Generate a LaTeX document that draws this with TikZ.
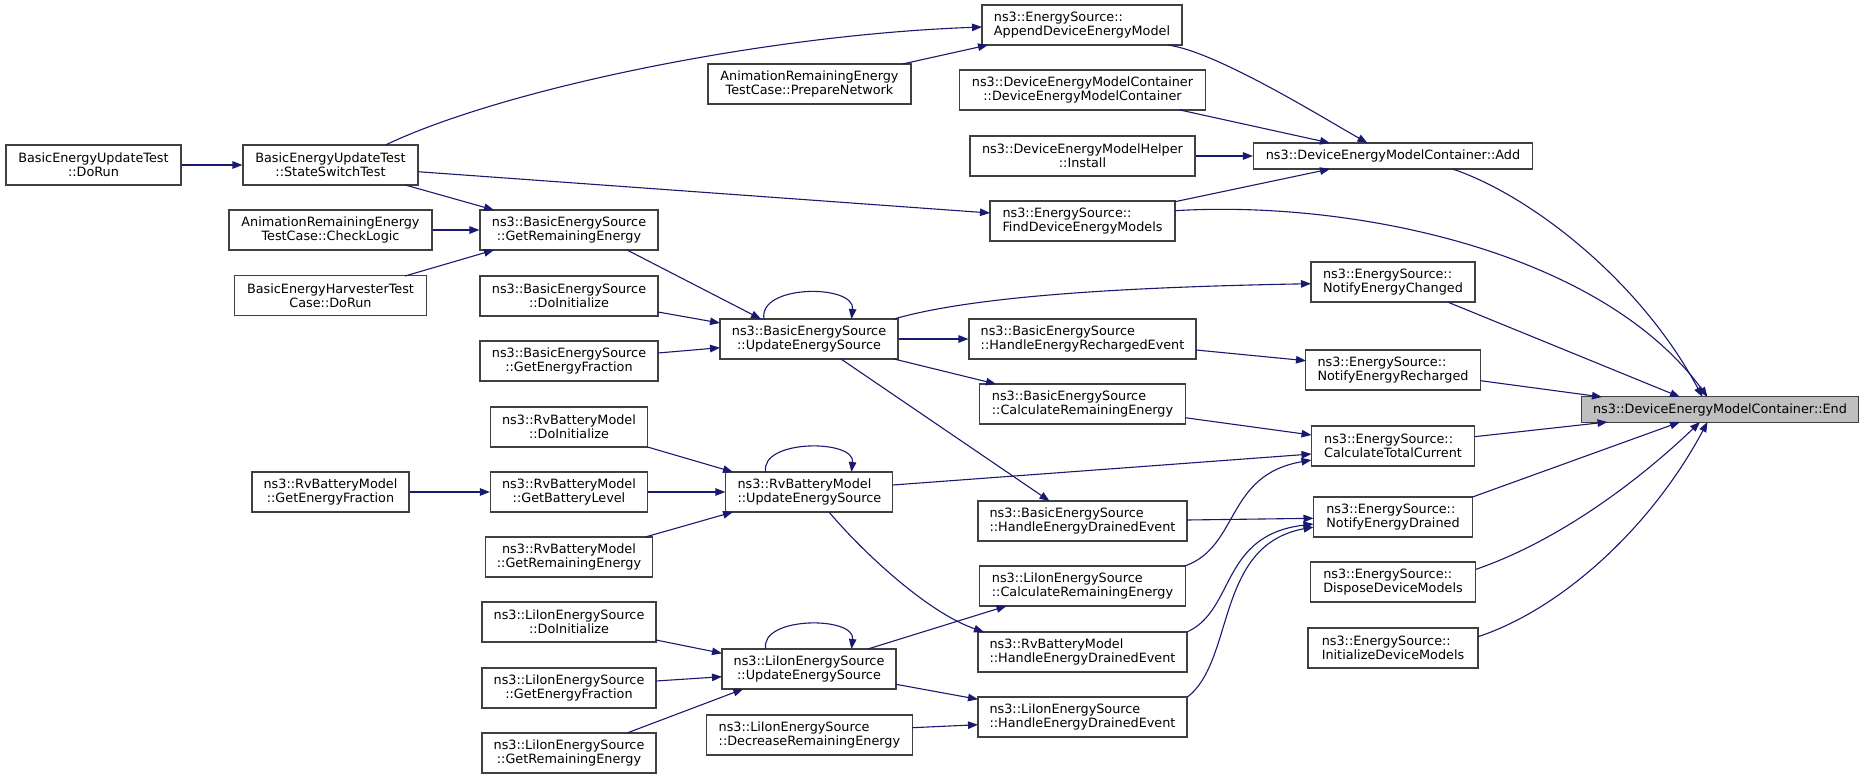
\documentclass[tikz,border=0pt]{standalone}
\usepackage{fontspec}
\setmainfont{DejaVu Sans}
\usetikzlibrary{arrows.meta}
\definecolor{edgecol}{HTML}{191970}
\definecolor{bordercol}{HTML}{404040}
\definecolor{rootfill}{HTML}{BFBFBF}
\tikzset{
  fn/.style={draw=bordercol, line width=1.1pt, fill=white, inner sep=0pt, minimum height=40pt,
    font=\fontsize{12.8}{14}\selectfont, text=black},
  fnl/.style={fn, align=left},
  fnc/.style={fn, align=center},
  call/.style={draw=edgecol, line width=1.1pt, -{Triangle[length=10pt,width=7.5pt]}},
}
\begin{document}
\begin{tikzpicture}[x=1pt,y=-1pt]
\fill[white] (0,0) rectangle (1864,779);
\useasboundingbox (0,0) rectangle (1864,779);
% column 1
\node[fnc, minimum width=175pt] (dorun) at (93.5,165) {BasicEnergyUpdateTest\\::DoRun};
% column 2
\node[fnc, minimum width=175pt] (sst) at (330.5,165) {BasicEnergyUpdateTest\\::StateSwitchTest};
\node[fnc, minimum width=203pt] (chk) at (330.5,230) {AnimationRemainingEnergy\\TestCase::CheckLogic};
\node[fnc, minimum width=192pt] (harv) at (330.5,295.5) {BasicEnergyHarvesterTest\\Case::DoRun};
\node[fnc, minimum width=157pt] (rgef) at (330.5,492) {ns3::RvBatteryModel\\::GetEnergyFraction};
% column 3
\node[fnc, minimum width=178pt] (bgre) at (569,230) {ns3::BasicEnergySource\\::GetRemainingEnergy};
\node[fnc, minimum width=178pt] (bdoi) at (569,296) {ns3::BasicEnergySource\\::DoInitialize};
\node[fnc, minimum width=178pt] (bgef) at (569,361) {ns3::BasicEnergySource\\::GetEnergyFraction};
\node[fnc, minimum width=157pt] (rdoi) at (569,427) {ns3::RvBatteryModel\\::DoInitialize};
\node[fnc, minimum width=157pt] (rgbl) at (569,492) {ns3::RvBatteryModel\\::GetBatteryLevel};
\node[fnc, minimum width=167pt] (rgre) at (569,557) {ns3::RvBatteryModel\\::GetRemainingEnergy};
\node[fnc, minimum width=174pt] (ldoi) at (569,622) {ns3::LiIonEnergySource\\::DoInitialize};
\node[fnc, minimum width=174pt] (lgef) at (569,688) {ns3::LiIonEnergySource\\::GetEnergyFraction};
\node[fnc, minimum width=174pt] (lgre) at (569,753) {ns3::LiIonEnergySource\\::GetRemainingEnergy};
% column 4
\node[fnc, minimum width=203pt] (prep) at (809.5,84) {AnimationRemainingEnergy\\TestCase::PrepareNetwork};
\node[fnc, minimum width=178pt] (bupd) at (809,339) {ns3::BasicEnergySource\\::UpdateEnergySource};
\node[fnl, minimum width=167pt] (rupd) at (809.4,492) {ns3::RvBatteryModel\\::UpdateEnergySource};
\node[fnc, minimum width=174pt] (lupd) at (809,669) {ns3::LiIonEnergySource\\::UpdateEnergySource};
\node[fnl, minimum width=206pt] (ldec) at (809.4,735) {ns3::LiIonEnergySource\\::DecreaseRemainingEnergy};
% column 5
\node[fnl, minimum width=200pt] (app) at (1082,25) {ns3::EnergySource::\\AppendDeviceEnergyModel};
\node[fnc, minimum width=246pt] (ctor) at (1082.5,90) {ns3::DeviceEnergyModelContainer\\::DeviceEnergyModelContainer};
\node[fnc, minimum width=225pt] (inst) at (1082.5,156) {ns3::DeviceEnergyModelHelper\\::Install};
\node[fnl, minimum width=185pt] (find) at (1082.5,221) {ns3::EnergySource::\\FindDeviceEnergyModels};
\node[fnl, minimum width=227pt] (here) at (1082.5,339) {ns3::BasicEnergySource\\::HandleEnergyRechargedEvent};
\node[fnl, minimum width=206pt] (bcre) at (1082.5,404) {ns3::BasicEnergySource\\::CalculateRemainingEnergy};
\node[fnl, minimum width=209pt] (bhede) at (1082.5,521) {ns3::BasicEnergySource\\::HandleEnergyDrainedEvent};
\node[fnl, minimum width=206pt] (lcre) at (1082.5,586) {ns3::LiIonEnergySource\\::CalculateRemainingEnergy};
\node[fnl, minimum width=209pt] (rhede) at (1082.5,652) {ns3::RvBatteryModel\\::HandleEnergyDrainedEvent};
\node[fnl, minimum width=209pt] (lhede) at (1082.5,717) {ns3::LiIonEnergySource\\::HandleEnergyDrainedEvent};
% column 6
\node[fnc, minimum width=279pt, minimum height=26pt] (add) at (1393,156) {ns3::DeviceEnergyModelContainer::Add};
\node[fnl, minimum width=164pt] (nec) at (1393,282) {ns3::EnergySource::\\NotifyEnergyChanged};
\node[fnl, minimum width=174.5pt] (ner) at (1393,370) {ns3::EnergySource::\\NotifyEnergyRecharged};
\node[fnl, minimum width=163pt] (ctc) at (1393,446) {ns3::EnergySource::\\CalculateTotalCurrent};
\node[fnl, minimum width=159pt] (ned) at (1393,517) {ns3::EnergySource::\\NotifyEnergyDrained};
\node[fnl, minimum width=165.5pt] (disp) at (1393,582) {ns3::EnergySource::\\DisposeDeviceModels};
\node[fnl, minimum width=170pt] (init) at (1393,648) {ns3::EnergySource::\\InitializeDeviceModels};
% root
\node[fnc, fill=rootfill, minimum width=277pt, minimum height=25.5pt] (root) at (1720,409.5) {ns3::DeviceEnergyModelContainer::End};

% edges
\draw[call] (dorun.east) -- (sst.west);
\draw[call] ([shift={(55,-20)}]sst.center) .. controls +(115,-55) and +(-222,8) .. ([shift={(-100,2)}]app.center);
\draw[call] ([shift={(93,-20)}]prep.center) -- ([shift={(-94,20)}]app.center);
\draw[call] ([shift={(87.5,6.7)}]sst.center) -- ([shift={(-92.5,-8)}]find.center);
\draw[call] ([shift={(74.8,20)}]sst.center) -- ([shift={(-75,-20)}]bgre.center);
\draw[call] (chk.east) -- (bgre.west);
\draw[call] ([shift={(74.5,-19.5)}]harv.center) -- ([shift={(-75,20)}]bgre.center);
\draw[call] ([shift={(58,20)}]bgre.center) -- ([shift={(-48,-20)}]bupd.center);
\draw[call] ([shift={(89,16)}]bdoi.center) -- ([shift={(-89,-16)}]bupd.center);
\draw[call] ([shift={(89,-8)}]bgef.center) -- ([shift={(-89,8.7)}]bupd.center);
\draw[call] ([shift={(-45,-20)}]bupd.center) .. controls +(-6,-35) and +(4,-35) .. ([shift={(42.5,-20)}]bupd.center);
\draw[call] ([shift={(85,-20)}]bupd.center) .. controls +(86,-25) and +(-161,3) .. ([shift={(-82,1.7)}]nec.center);
\draw[call] (bupd.east) -- (here.west);
\draw[call] ([shift={(85,20)}]bupd.center) -- ([shift={(-86.5,-20)}]bcre.center);
\draw[call] ([shift={(32,20)}]bupd.center) -- ([shift={(-33,-20)}]bhede.center);
\draw[call] ([shift={(85.5,20)}]app.center) .. controls +(47.5,6) and +(-47.5,-27) .. ([shift={(-25.5,-13)}]add.center);
\draw[call] ([shift={(97.5,20)}]ctor.center) -- ([shift={(-63,-13)}]add.center);
\draw[call] (inst.east) -- (add.west);
\draw[call] ([shift={(92.5,-19.3)}]find.center) -- ([shift={(-63,13)}]add.center);
\draw[call] ([shift={(92.5,-10.3)}]find.center) .. controls +(175,-10.7) and +(-107.5,-147) .. ([shift={(-12.5,-12.5)}]root.center);
\draw[call] ([shift={(59.5,13)}]add.center) .. controls +(77.5,26) and +(-62.5,-117) .. ([shift={(-17.5,-12.5)}]root.center);
\draw[call] ([shift={(54.5,20)}]nec.center) -- ([shift={(-40,-12.5)}]root.center);
\draw[call] ([shift={(113.5,11)}]here.center) -- ([shift={(-87,-9.3)}]ner.center);
\draw[call] ([shift={(87.5,10.7)}]ner.center) -- ([shift={(-118,-12.5)}]root.center);
\draw[call] ([shift={(102.5,13.7)}]bcre.center) -- ([shift={(-81.5,-11)}]ctc.center);
\draw[call] ([shift={(83.3,-7)}]rupd.center) -- ([shift={(-81.5,8)}]ctc.center);
\draw[call] ([shift={(102.5,-20)}]lcre.center) .. controls +(55,-20) and +(-86.5,15) .. ([shift={(-81.5,14)}]ctc.center);
\draw[call] ([shift={(81.5,-9.3)}]ctc.center) -- ([shift={(-112.5,12.5)}]root.center);
\draw[call] ([shift={(104.5,-1)}]bhede.center) -- ([shift={(-79.5,1.3)}]ned.center);
\draw[call] ([shift={(104.5,-20)}]rhede.center) .. controls +(48.5,-22) and +(-93.5,11) .. ([shift={(-79.5,7)}]ned.center);
\draw[call] ([shift={(105,-20)}]lhede.center) .. controls +(47.5,-37) and +(-98.5,18) .. ([shift={(-79.5,10)}]ned.center);
\draw[call] ([shift={(79.5,-20)}]ned.center) -- ([shift={(-40,12.5)}]root.center);
\draw[call] ([shift={(83,-12.7)}]disp.center) .. controls +(84,-29) and +(-60,57.5) .. ([shift={(-20,12.5)}]root.center);
\draw[call] ([shift={(85,-11.3)}]init.center) .. controls +(82,-27) and +(-57.5,107.5) .. ([shift={(-12.5,12.5)}]root.center);
\draw[call] ([shift={(78.5,20)}]rdoi.center) -- ([shift={(-76.4,-20)}]rupd.center);
\draw[call] (rgef.east) -- (rgbl.west);
\draw[call] (rgbl.east) -- (rupd.west);
\draw[call] ([shift={(76.3,-20)}]rgre.center) -- ([shift={(-76.4,20)}]rupd.center);
\draw[call] ([shift={(-43.7,-20)}]rupd.center) .. controls +(-6,-33) and +(4,-33) .. ([shift={(42,-20)}]rupd.center);
\draw[call] ([shift={(19.6,20)}]rupd.center) .. controls +(31,37) and +(-58,-20) .. ([shift={(-98.5,-20)}]rhede.center);
\draw[call] ([shift={(87,18)}]ldoi.center) -- ([shift={(-87,-15.7)}]lupd.center);
\draw[call] ([shift={(87,-7)}]lgef.center) -- ([shift={(-87,7.7)}]lupd.center);
\draw[call] ([shift={(58,-20)}]lgre.center) -- ([shift={(-65.7,20)}]lupd.center);
\draw[call] ([shift={(-43.3,-20)}]lupd.center) .. controls +(-6,-33) and +(4,-33) .. ([shift={(42.5,-20)}]lupd.center);
\draw[call] ([shift={(58.8,-20)}]lupd.center) -- ([shift={(-76,20)}]lcre.center);
\draw[call] ([shift={(87,15.3)}]lupd.center) -- ([shift={(-104.5,-17.7)}]lhede.center);
\draw[call] ([shift={(103,-7.3)}]ldec.center) -- ([shift={(-104.5,7.7)}]lhede.center);
\end{tikzpicture}
\end{document}
